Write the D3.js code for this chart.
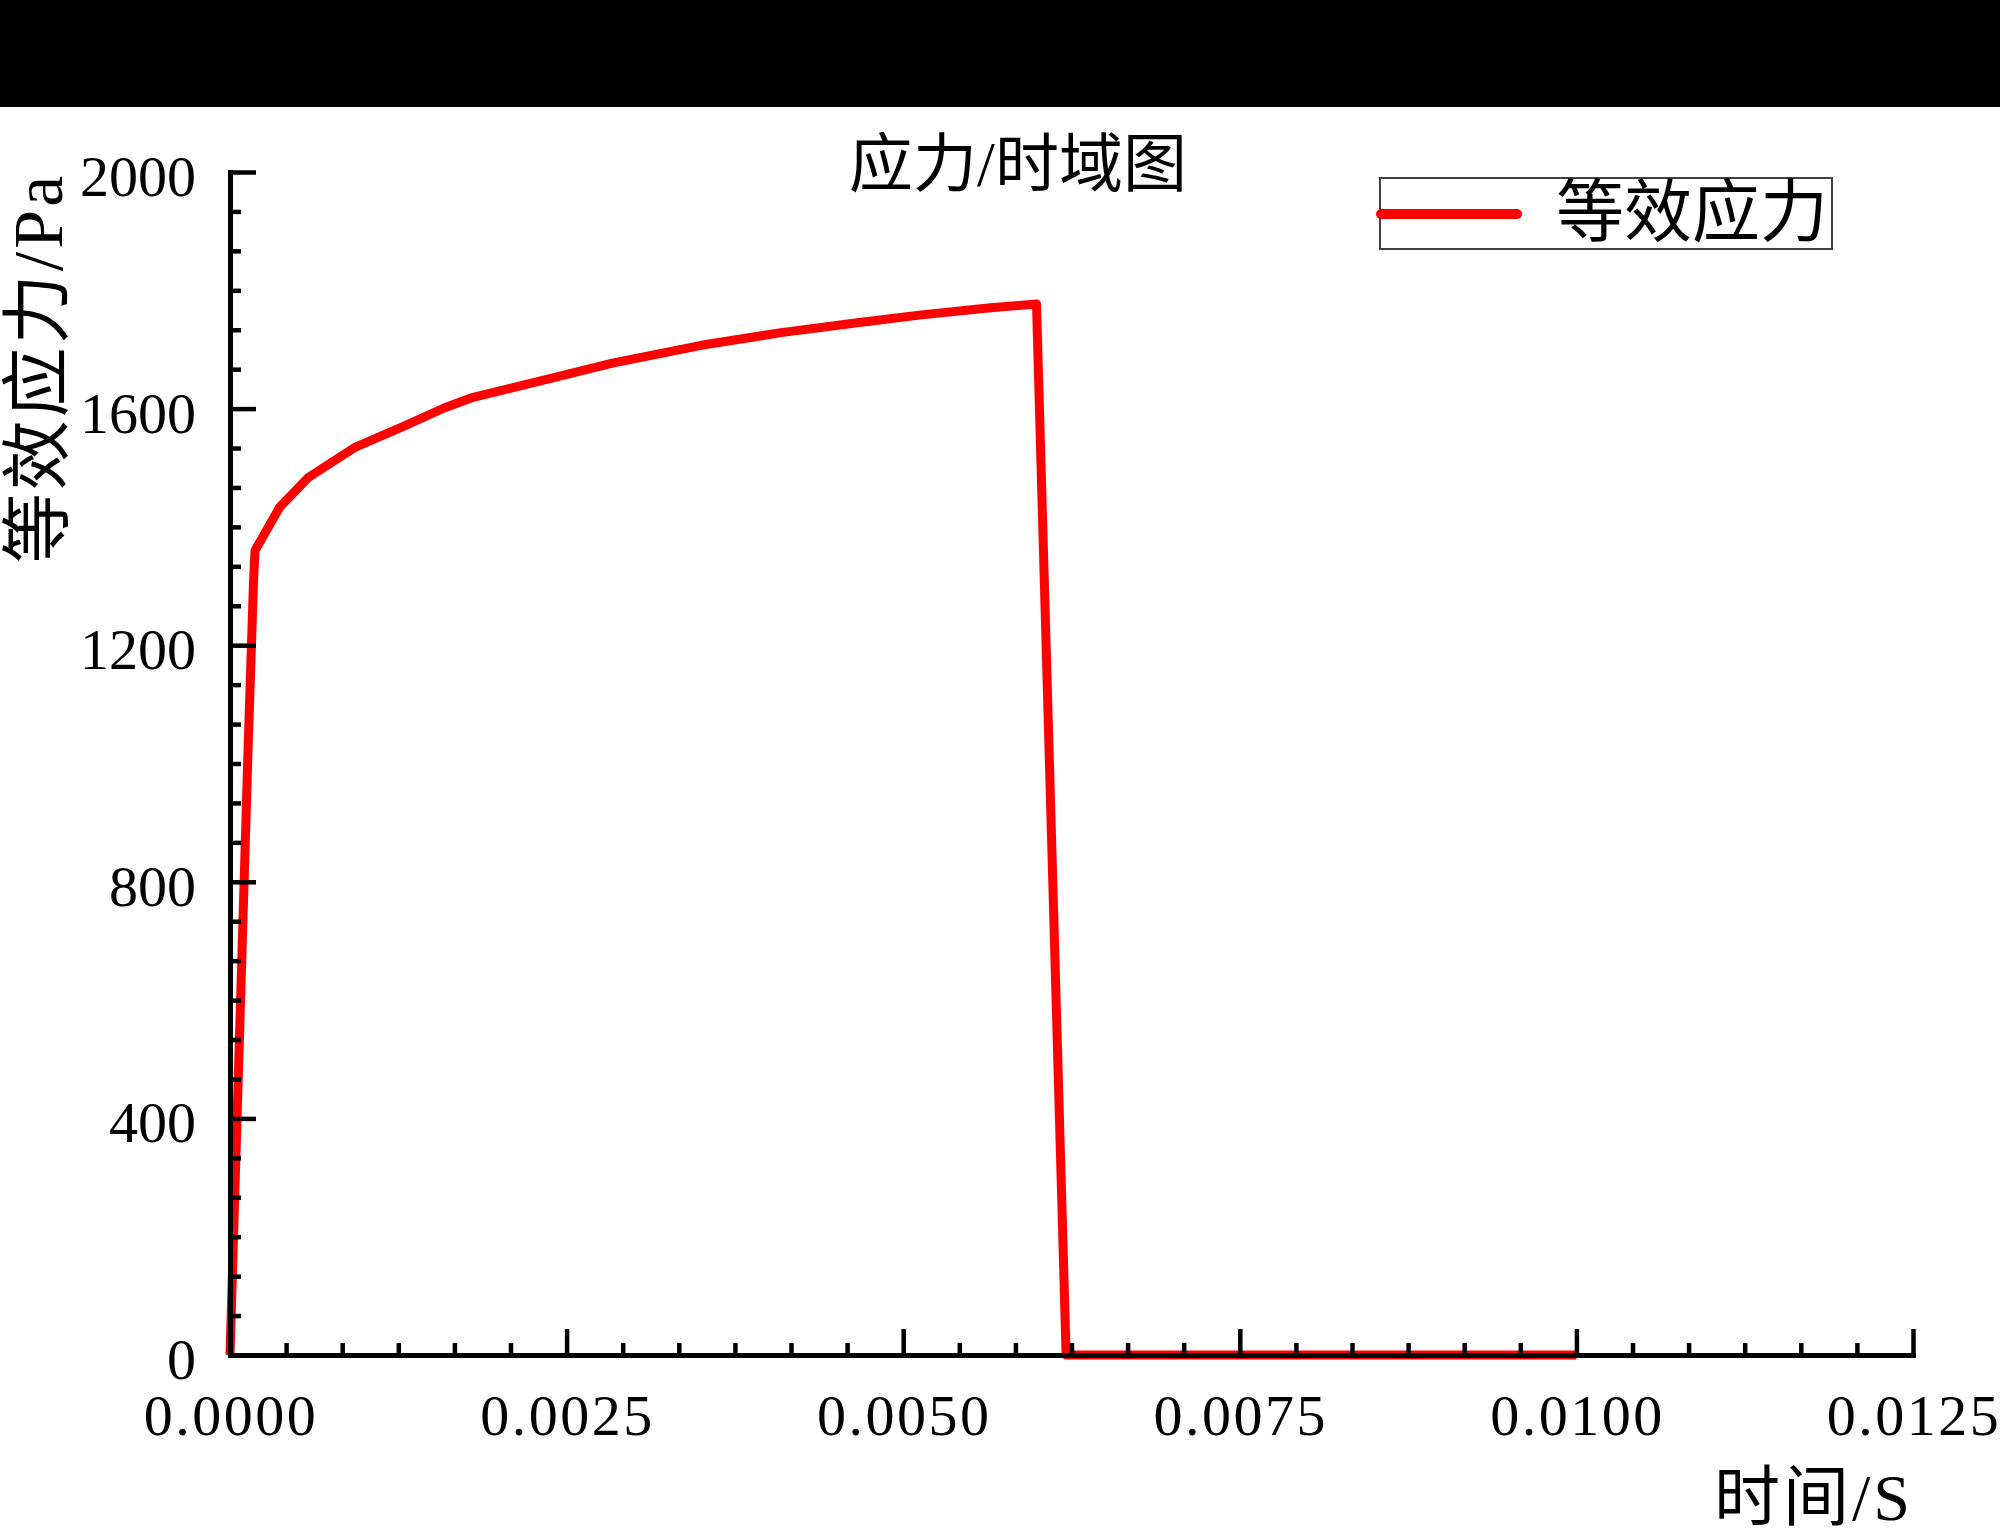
<!DOCTYPE html>
<html>
<head>
<meta charset="utf-8">
<script src="https://cdn.jsdelivr.net/npm/d3@7"></script>
<style>
  html, body { margin: 0; padding: 0; background: #fff; }
  svg { display: block; }
</style>
</head>
<body>
<svg id="chart" width="2000" height="1534"></svg>
<script>
// ---- data ----
const timeS = [0, 0.000134, 0.000175, 0.000186, 0.000371, 0.000579, 0.000932, 0.00128, 0.00159, 0.00179,
               0.00233, 0.00284, 0.0035, 0.00408, 0.00466, 0.00512, 0.00563, 0.00599, 0.00621, 0.0100];
const stressPa = [0, 1023, 1310, 1360, 1434, 1483, 1535, 1569, 1601, 1618,
                  1648, 1677, 1707, 1728, 1745, 1758, 1770, 1777, 0, 0];
const xTickValues = [0, 0.0025, 0.005, 0.0075, 0.01, 0.0125];
const xTickLabels = ["0.0000", "0.0025", "0.0050", "0.0075", "0.0100", "0.0125"];
const yTickValues = [0, 400, 800, 1200, 1600, 2000];
const yTickLabels = ["0", "400", "800", "1200", "1600", "2000"];
const minorPerMajor = 6;
const titleText = "应力/时域图";
const xLabel = "时间/S";
const yLabel = "等效应力/Pa";
const seriesName = "等效应力";

// ---- drawing ----
const svg = d3.select("#chart");
const FONT = "'Liberation Serif', 'Noto Sans CJK SC', serif";

svg.append("rect").attr("x", 0).attr("y", 0).attr("width", 2000).attr("height", 107).attr("fill", "#000");

const x = d3.scaleLinear().domain([0, 0.0125]).range([230, 1913]);
const y = d3.scaleLinear().domain([0, 2000]).range([1355, 172]);

const data = timeS.map((t, i) => ({ t, v: stressPa[i] }));

// data line
svg.append("path")
  .datum(data)
  .attr("fill", "none")
  .attr("stroke", "#ff0000")
  .attr("stroke-width", 9)
  .attr("stroke-linejoin", "round")
  .attr("d", d3.line().x(d => x(d.t)).y(d => y(d.v)));

// minor tick positions
const xMinor = [];
for (let i = 0; i < xTickValues.length - 1; i++) {
  const step = (xTickValues[i + 1] - xTickValues[i]) / minorPerMajor;
  for (let k = 1; k < minorPerMajor; k++) xMinor.push(xTickValues[i] + k * step);
}
const yMinor = [];
for (let i = 0; i < yTickValues.length - 1; i++) {
  const step = (yTickValues[i + 1] - yTickValues[i]) / minorPerMajor;
  for (let k = 1; k < minorPerMajor; k++) yMinor.push(yTickValues[i] + k * step);
}

function styleAxis(g, w) {
  g.selectAll("path.domain").attr("stroke", "#000").attr("stroke-width", 5).attr("stroke-linecap", "square");
  g.selectAll(".tick line").attr("stroke", "#000").attr("stroke-width", w);
  g.selectAll(".tick text").remove();
}

// x axis
const gx = svg.append("g").attr("transform", "translate(0,1355)");
gx.call(d3.axisBottom(x).tickValues(xMinor).tickSizeInner(-12).tickSizeOuter(0).tickFormat(""));
styleAxis(gx, 4.5);
const gx2 = svg.append("g").attr("transform", "translate(0,1355)");
gx2.call(d3.axisBottom(x).tickValues(xTickValues).tickSizeInner(-26).tickSizeOuter(0).tickFormat(""));
styleAxis(gx2, 4.5);

// y axis
const gy = svg.append("g").attr("transform", "translate(230,0)");
gy.call(d3.axisLeft(y).tickValues(yMinor).tickSizeInner(-11).tickSizeOuter(0).tickFormat(""));
styleAxis(gy, 4.5);
const gy2 = svg.append("g").attr("transform", "translate(230,0)");
gy2.call(d3.axisLeft(y).tickValues(yTickValues).tickSizeInner(-26).tickSizeOuter(0).tickFormat(""));
styleAxis(gy2, 4.5);

// tick labels
svg.append("g").selectAll("text")
  .data(xTickValues)
  .join("text")
  .attr("x", d => x(d) + 1)
  .attr("y", 1435)
  .attr("text-anchor", "middle")
  .attr("font-family", FONT)
  .attr("font-size", 58)
  .attr("letter-spacing", 2.5)
  .attr("fill", "#000")
  .text((d, i) => xTickLabels[i]);

svg.append("g").selectAll("text")
  .data(yTickValues)
  .join("text")
  .attr("x", 196)
  .attr("y", d => y(d) + 24)
  .attr("text-anchor", "end")
  .attr("font-family", FONT)
  .attr("font-size", 58)
  .attr("fill", "#000")
  .text((d, i) => yTickLabels[i]);

// title
svg.append("text")
  .attr("x", 1018).attr("y", 164)
  .attr("text-anchor", "middle")
  .attr("dominant-baseline", "central")
  .attr("font-family", FONT)
  .attr("font-size", 64)
  .attr("fill", "#000")
  .text(titleText);

// x label
svg.append("text")
  .attr("x", 1913).attr("y", 1497)
  .attr("text-anchor", "end")
  .attr("dominant-baseline", "central")
  .attr("font-family", FONT)
  .attr("font-size", 66)
  .attr("letter-spacing", 3)
  .attr("fill", "#000")
  .text(xLabel);

// y label
svg.append("text")
  .attr("transform", "translate(38,368) rotate(-90)")
  .attr("text-anchor", "middle")
  .attr("dominant-baseline", "central")
  .attr("font-family", FONT)
  .attr("font-size", 70)
  .attr("letter-spacing", 3)
  .attr("fill", "#000")
  .text(yLabel);

// legend
const lg = svg.append("g");
lg.append("rect")
  .attr("x", 1380).attr("y", 178).attr("width", 452).attr("height", 71)
  .attr("fill", "#fff").attr("stroke", "#404040").attr("stroke-width", 2);
lg.append("line")
  .attr("x1", 1381).attr("x2", 1517).attr("y1", 214).attr("y2", 214)
  .attr("stroke", "#ff0000").attr("stroke-width", 10).attr("stroke-linecap", "round");
lg.append("text")
  .attr("x", 1556).attr("y", 213)
  .attr("dominant-baseline", "central")
  .attr("font-family", FONT)
  .attr("font-size", 68)
  .attr("fill", "#000")
  .text(seriesName);
</script>
</body>
</html>
